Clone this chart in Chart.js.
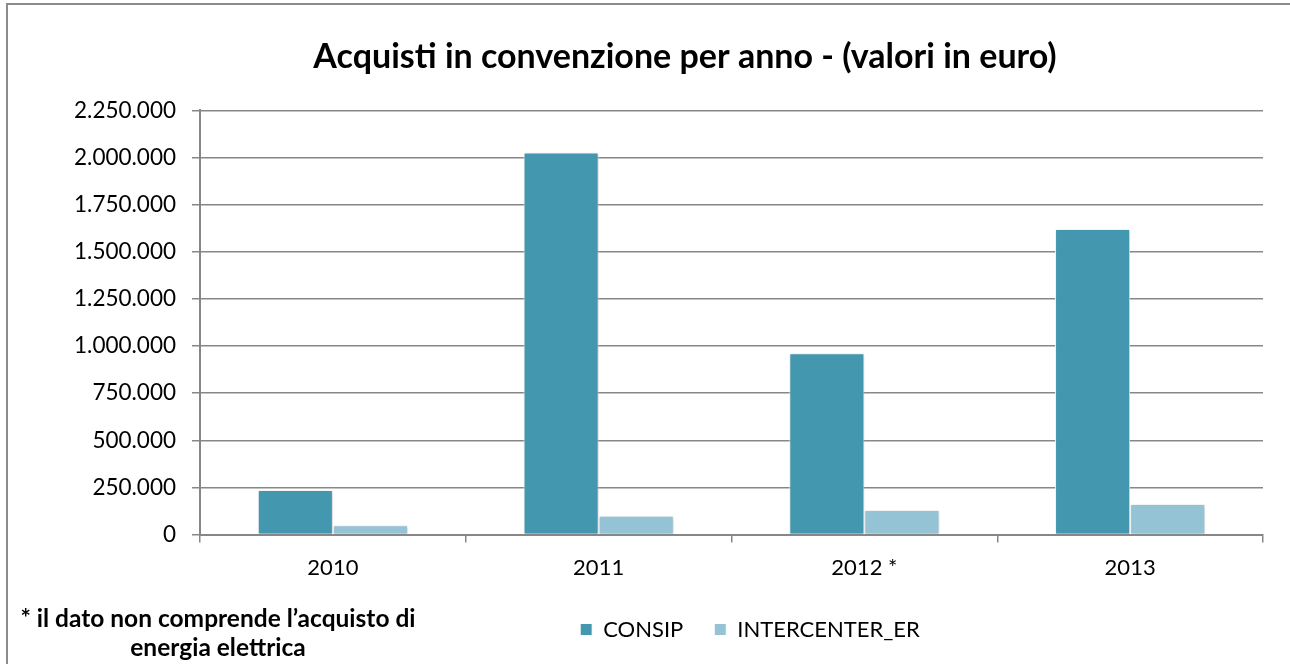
<!DOCTYPE html>
<html lang="it">
<head>
  <meta charset="UTF-8" />
  <title>Acquisti in convenzione per anno</title>
  <script src="https://cdn.jsdelivr.net/npm/chart.js"></script>
  <style>
    body { margin: 0; background: #fff; font-family: Lato, sans-serif; }
    #wrap { position: relative; width: 1290px; height: 664px; overflow: hidden; }
    #frame { position: absolute; left: 6px; top: 3px; width: 1400px; height: 800px; border: 2px solid #8c8c8c; }
    #chart { position: absolute; left: 0; top: 0; }
    #note {
      position: absolute; left: 8px; top: 603px; width: 420px;
      text-align: center; font-weight: bold; font-size: 24.5px; line-height: 29px; color: #000;
    }
  </style>
</head>
<body>
<div id="wrap">
  <div id="frame"></div>
  <canvas id="chart" width="1290" height="664"></canvas>
  <div id="note">* il dato non comprende l’acquisto di<br>energia elettrica</div>
</div>

<script>
  // data
  const years = ['2010', '2011', '2012 *', '2013'];
  const consip = [236000, 2026000, 962000, 1620000];
  const intercenter = [49000, 100000, 130000, 162000];
  const seriesNames = ['CONSIP', 'INTERCENTER_ER'];

  const fmt = v => String(v).replace(/\B(?=(\d{3})+(?!\d))/g, '.');
  const gridGrey = '#878787';

  // soft shadow under the bars, like the office chart
  const barShadow = {
    id: 'barShadow',
    beforeDatasetsDraw(chart) {
      const c = chart.ctx;
      c.save();
      c.shadowColor = 'rgba(0,0,0,0.22)';
      c.shadowBlur = 4;
      c.shadowOffsetX = 1;
      c.shadowOffsetY = 1;
    },
    afterDatasetsDraw(chart) { chart.ctx.restore(); }
  };

  // title and legend are not centred on the canvas in the reference
  const moveBoxes = {
    id: 'moveBoxes',
    afterLayout(chart) {
      const t = chart.titleBlock;
      const tdx = 685 - (t.left + t.right) / 2;
      t.left += tdx; t.right += tdx;

      const lg = chart.legend;
      const dx = 750 - (lg.left + lg.right) / 2;
      lg.left += dx; lg.right += dx;
      lg.top -= 5.5; lg.bottom -= 5.5;
    }
  };

  new Chart(document.getElementById('chart'), {
    type: 'bar',
    data: {
      labels: years,
      datasets: [
        { label: seriesNames[0], data: consip, backgroundColor: '#4398B0', borderColor: '#fff', borderWidth: 1 },
        { label: seriesNames[1], data: intercenter, backgroundColor: '#93C3D5', borderColor: '#fff', borderWidth: 1 }
      ]
    },
    options: {
      responsive: false,
      animation: false,
      layout: { padding: { left: 0, right: 27, top: 0, bottom: 8 } },
      datasets: { bar: { categoryPercentage: 0.565, barPercentage: 1.0 } },
      scales: {
        x: {
          grid: { offset: true, drawOnChartArea: false, color: gridGrey, lineWidth: 1.5, tickLength: 8 },
          border: { color: gridGrey, width: 2 },
          ticks: { color: '#000', font: { family: 'Lato', size: 22 }, padding: 12 }
        },
        y: {
          min: 0, max: 2250000,
          afterFit(scale) { scale.width = 200; },
          grid: { color: gridGrey, lineWidth: 1.5, tickLength: 8 },
          border: { color: gridGrey, width: 2 },
          ticks: { stepSize: 250000, color: '#000', font: { family: 'Lato', size: 22.5 }, padding: 16, callback: v => fmt(v) }
        }
      },
      plugins: {
        title: {
          display: true,
          text: 'Acquisti in convenzione per anno - (valori in euro)',
          color: '#000',
          font: { family: 'Lato', size: 34, weight: 'bold' },
          padding: { top: 36.5, bottom: 33 }
        },
        legend: {
          position: 'bottom',
          labels: { color: '#000', font: { family: 'Lato', size: 22 }, boxWidth: 12, boxHeight: 12, padding: 31 }
        },
        tooltip: { enabled: false }
      }
    },
    plugins: [barShadow, moveBoxes]
  });
</script>
</body>
</html>
